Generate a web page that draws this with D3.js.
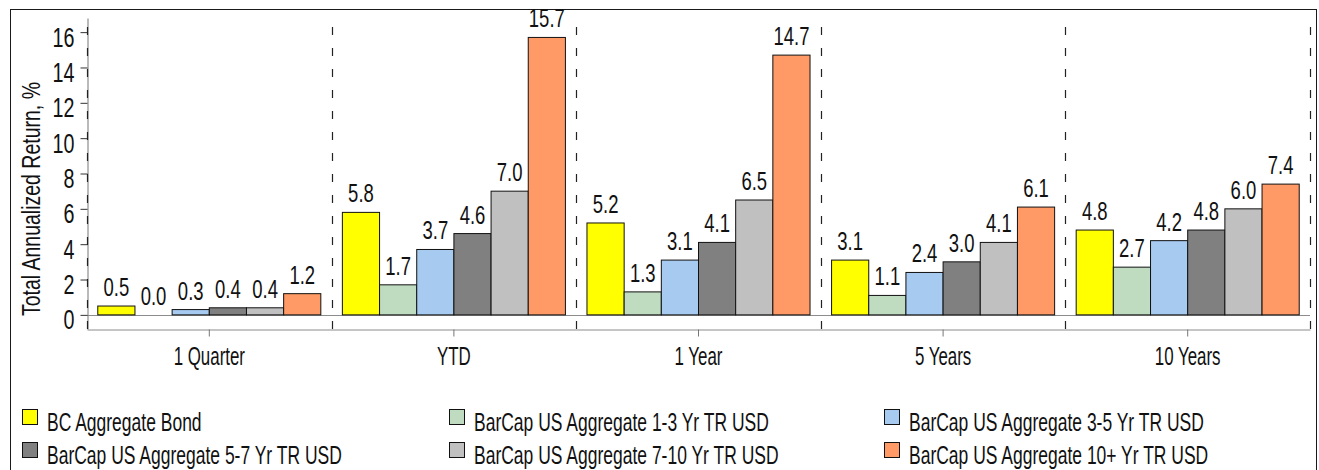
<!DOCTYPE html>
<html>
<head>
<meta charset="utf-8">
<script src="https://cdn.jsdelivr.net/npm/d3@7"></script>
<style>
  html, body { margin: 0; padding: 0; background: #fff; }
  svg { display: block; }
  text { font-family: "Liberation Sans", Arial, sans-serif; fill: #111; }
</style>
</head>
<body>
<svg id="chart" width="1319" height="470"></svg>
<script>
// Periods shown along the x axis
const categories = ["1 Quarter", "YTD", "1 Year", "5 Years", "10 Years"];

// Index names (legend order)
const seriesNames = [
  "BC Aggregate Bond",
  "BarCap US Aggregate 1-3 Yr TR USD",
  "BarCap US Aggregate 3-5 Yr TR USD",
  "BarCap US Aggregate 5-7 Yr TR USD",
  "BarCap US Aggregate 7-10 Yr TR USD",
  "BarCap US Aggregate 10+ Yr TR USD"
];

// Total annualized return, %, one value per period
const bcAggregateBond = [0.5, 5.8, 5.2, 3.1, 4.8];
const aggregate1to3   = [0.0, 1.7, 1.3, 1.1, 2.7];
const aggregate3to5   = [0.3, 3.7, 3.1, 2.4, 4.2];
const aggregate5to7   = [0.4, 4.6, 4.1, 3.0, 4.8];
const aggregate7to10  = [0.4, 7.0, 6.5, 4.1, 6.0];
const aggregate10plus = [1.2, 15.7, 14.7, 6.1, 7.4];

const yTickValues = [0, 2, 4, 6, 8, 10, 12, 14, 16];

const seriesColors = ["#ffff00", "#c0dcc0", "#a6caf0", "#808080", "#c0c0c0", "#ff9966"];

const seriesValues = [bcAggregateBond, aggregate1to3, aggregate3to5, aggregate5to7, aggregate7to10, aggregate10plus];

const svg = d3.select("#chart");

// Squeeze text horizontally (condensed typeface look) by scaling it about its anchor
function condense(sel, ratio) {
  sel.each(function () {
    const t = d3.select(this);
    const x = +t.attr("x") || 0;
    const yPos = +t.attr("y") || 0;
    const prev = t.attr("transform") || "";
    t.attr("x", 0).attr("y", 0)
      .attr("transform", `${prev} translate(${x},${yPos}) scale(${ratio},1)`.trim());
  });
}

// Plot geometry
const plotLeft = 87, plotRight = 1310, plotTop = 18, plotBottom = 329;

const x0 = d3.scaleBand().domain(categories).range([plotLeft, plotRight]).padding(0);
const x1 = d3.scaleBand().domain(d3.range(seriesNames.length))
  .range([0, x0.bandwidth()]).paddingInner(0).paddingOuter(0.29);
const y = d3.scaleLinear().domain([-0.8, 16.8]).range([plotBottom, plotTop]);

// Outer frame
svg.append("rect")
  .attr("x", 10.5).attr("y", 9.5)
  .attr("width", 1306).attr("height", 480)
  .attr("fill", "none").attr("stroke", "#1a1a1a").attr("stroke-width", 1);

// Zero reference line
svg.append("line")
  .attr("x1", plotLeft).attr("x2", plotRight)
  .attr("y1", Math.round(y(0)) + 0.5).attr("y2", Math.round(y(0)) + 0.5)
  .attr("stroke", "#8c8c8c").attr("stroke-width", 1.2);

// Y axis
const yAxis = svg.append("g")
  .attr("transform", `translate(${plotLeft + 0.5},0)`)
  .call(d3.axisLeft(y).tickValues(yTickValues).tickSize(7).tickSizeOuter(0).tickPadding(6).tickFormat(d3.format("d")));
yAxis.select(".domain").attr("stroke", "#8c8c8c").attr("stroke-width", 1.2);
yAxis.selectAll(".tick line").attr("stroke", "#333");
yAxis.selectAll(".tick text")
  .attr("dy", "0.52em")
  .style("font-size", "27px")
  .attr("fill", "#111");
yAxis.selectAll(".tick text").call(condense, 0.73);

// X axis
const xAxis = svg.append("g")
  .attr("transform", `translate(0,${plotBottom + 0.5})`)
  .call(d3.axisBottom(x0).tickSize(7).tickSizeOuter(0));
xAxis.select(".domain").attr("stroke", "#8c8c8c").attr("stroke-width", 1.2);
xAxis.selectAll(".tick line").attr("stroke", "#777");
xAxis.selectAll(".tick text")
  .attr("y", 35).attr("dy", 0)
  .style("font-size", "26px")
  .attr("fill", "#111");
xAxis.selectAll(".tick text").call(condense, 0.65);

// Dashed separators between periods
const boundaries = categories.map(c => x0(c)).concat([plotRight]);
svg.append("g").selectAll("line")
  .data(boundaries)
  .join("line")
  .attr("x1", d => Math.round(d) + 0.5).attr("x2", d => Math.round(d) + 0.5)
  .attr("y1", plotBottom).attr("y2", 25)
  .attr("stroke", "#222").attr("stroke-width", 1.2)
  .attr("stroke-dasharray", "8,13");

// Bars
const groups = svg.append("g").selectAll("g")
  .data(categories)
  .join("g")
  .attr("transform", c => `translate(${x0(c)},0)`);

const barData = (c, ci) => seriesValues.map((vals, si) => ({ si, value: vals[ci] }));

groups.each(function (c, ci) {
  const g = d3.select(this);
  const rows = barData(c, ci);
  g.selectAll("rect")
    .data(rows)
    .join("rect")
    .attr("x", d => x1(d.si))
    .attr("width", x1.bandwidth())
    .attr("y", d => y(Math.max(0, d.value)))
    .attr("height", d => Math.abs(y(d.value) - y(0)))
    .attr("fill", d => seriesColors[d.si])
    .attr("stroke", "#111")
    .attr("stroke-width", 1);
  g.selectAll("text.value")
    .data(rows)
    .join("text")
    .attr("class", "value")
    .attr("x", d => x1(d.si) + x1.bandwidth() / 2)
    .attr("y", d => y(Math.max(0, d.value)) - 10)
    .attr("text-anchor", "middle")
    .style("font-size", "25px")
    .text(d => d3.format(".1f")(d.value))
    .call(condense, 0.74);
});

// Y axis title
svg.append("text")
  .attr("transform", "translate(40,199) rotate(-90)")
  .attr("text-anchor", "middle")
  .style("font-size", "25px")
  .text("Total Annualized Return, %")
  .call(condense, 0.78);

// Legend: three columns, two rows
const legendCols = [22, 449, 884];
const legendRows = [409, 442];
const legend = svg.append("g").selectAll("g")
  .data(seriesNames)
  .join("g")
  .attr("transform", (d, i) => `translate(${legendCols[i % 3]},${legendRows[Math.floor(i / 3)]})`);
legend.append("rect")
  .attr("x", 0.5).attr("y", 0.5)
  .attr("width", 15).attr("height", 15)
  .attr("fill", (d, i) => seriesColors[i])
  .attr("stroke", "#111");
legend.append("text")
  .attr("x", 25).attr("y", 22)
  .style("font-size", "25px")
  .text(d => d)
  .call(condense, 0.70);
</script>
</body>
</html>
